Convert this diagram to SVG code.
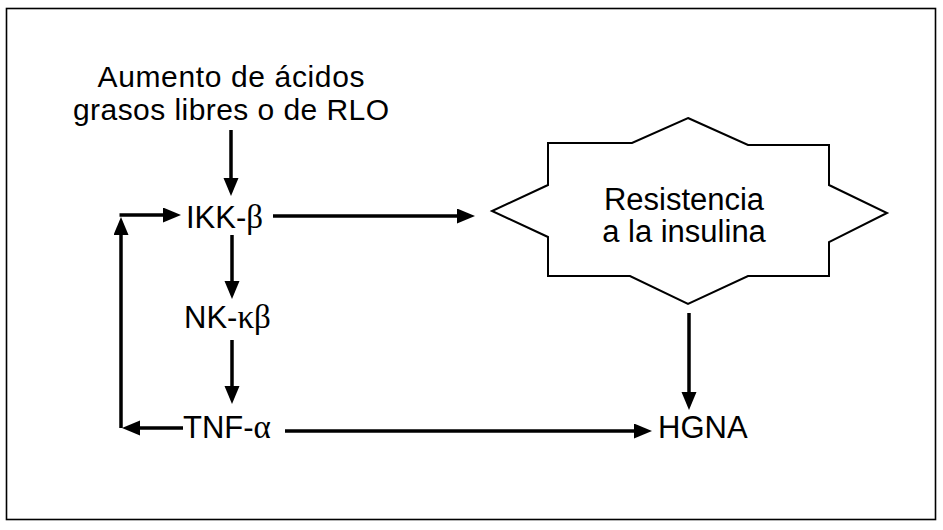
<svg xmlns="http://www.w3.org/2000/svg" width="943" height="530" viewBox="0 0 943 530">
<style>
.t{font-family:"Liberation Sans",Arial,sans-serif;font-size:31px;fill:#000}
.s{font-size:30px}
.g{font-family:"Liberation Serif","Times New Roman",serif;font-size:33px}
.c{stroke:#000;stroke-width:3.5;fill:none}
</style>
<defs>
<marker id="ah" markerUnits="userSpaceOnUse" markerWidth="20" markerHeight="16" refX="2" refY="7.5" orient="auto">
<path d="M0,0 L18,7.5 L0,15 z" fill="#000"/>
</marker>
</defs>
<rect x="6.5" y="8.5" width="929" height="511" fill="#fff" stroke="#000" stroke-width="1.6"/>
<g id="n-aumento">
<text class="t s" x="231" y="87" text-anchor="middle" textLength="267" lengthAdjust="spacing">Aumento de ácidos</text>
<text class="t s" x="231" y="120" text-anchor="middle" textLength="316" lengthAdjust="spacing">grasos libres o de RLO</text>
</g>
<g id="n-ikk"><text class="t" x="186" y="228">IKK-<tspan class="g">β</tspan></text></g>
<g id="n-nk"><text class="t" x="184" y="328">NK-<tspan class="g">κβ</tspan></text></g>
<g id="n-tnf"><text class="t" x="183" y="438">TNF-<tspan class="g">α</tspan></text></g>
<g id="n-hgna"><text class="t" x="658" y="438">HGNA</text></g>
<g id="n-resistencia">
<polygon points="688,118 748,145 829,145 829,185 887,213 829,242 829,276 748,276 688,304 630,276 548,276 548,237 492,211 548,185 548,143 632,143" fill="#fff" stroke="#000" stroke-width="2"/>
<text class="t" x="684" y="210" text-anchor="middle">Resistencia</text>
<text class="t" x="684" y="242" text-anchor="middle">a la insulina</text>
</g>
<g id="connectors">
<line class="c" x1="231" y1="130" x2="231" y2="180" marker-end="url(#ah)"/>
<line class="c" x1="273" y1="216" x2="459" y2="216" marker-end="url(#ah)"/>
<line class="c" x1="232" y1="235" x2="232" y2="283" marker-end="url(#ah)"/>
<line class="c" x1="232" y1="340" x2="232" y2="388" marker-end="url(#ah)"/>
<line class="c" x1="183" y1="428" x2="138" y2="428" marker-end="url(#ah)"/>
<line class="c" x1="121" y1="428" x2="121" y2="233" marker-end="url(#ah)"/>
<line class="c" x1="119.5" y1="215" x2="165" y2="215" marker-end="url(#ah)"/>
<line class="c" x1="285" y1="431" x2="636" y2="431" marker-end="url(#ah)"/>
<line class="c" x1="689" y1="313" x2="689" y2="394" marker-end="url(#ah)"/>
</g>
</svg>
